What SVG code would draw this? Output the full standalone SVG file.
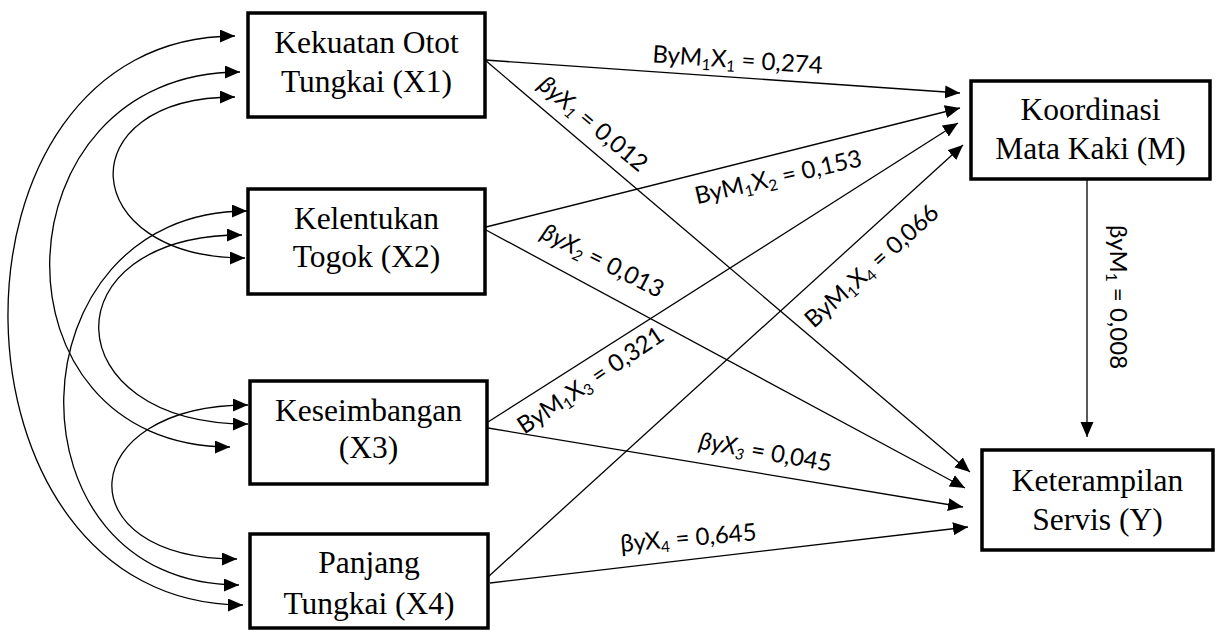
<svg xmlns="http://www.w3.org/2000/svg" width="1217" height="633" viewBox="0 0 1217 633">
<style>
.box{fill:#fff;stroke:#000;stroke-width:3.5}
.nt{font-family:"Liberation Serif","Times New Roman",serif;font-size:31.5px;fill:#000;text-anchor:middle}
.ln{fill:none;stroke:#000;stroke-width:1.3}
.lb{font-family:Lato,"Noto Sans","DejaVu Sans",sans-serif;font-size:24px;fill:#000;text-anchor:middle}
.sb{font-size:15.5px}
.it{font-style:italic}
</style>
<defs>
<marker id="ah" markerUnits="userSpaceOnUse" markerWidth="16" markerHeight="14" refX="15" refY="6.5" orient="auto-start-reverse">
<path d="M0,0 L15,6.5 L0,13 z" fill="#000"/>
</marker>
</defs>
<rect width="1217" height="633" fill="#fff"/>
<g id="connectors">
<path class="ln" marker-start="url(#ah)" marker-end="url(#ah)" d="M235,36 C-73,36 -65,605 243,605"/>
<path class="ln" marker-start="url(#ah)" marker-end="url(#ah)" d="M240,72 C-7,72 -17,447 230,447"/>
<path class="ln" marker-start="url(#ah)" marker-end="url(#ah)" d="M235,97 C66,97 76,258 245,258"/>
<path class="ln" marker-start="url(#ah)" marker-end="url(#ah)" d="M247,211 C8,211 0,585 239,585"/>
<path class="ln" marker-start="url(#ah)" marker-end="url(#ah)" d="M242,235 C47,235 53,424 248,424"/>
<path class="ln" marker-start="url(#ah)" marker-end="url(#ah)" d="M248,405 C74,405 63,559 237,559"/>
<path class="ln" marker-end="url(#ah)" d="M485,60 L960,93"/>
<path class="ln" marker-end="url(#ah)" d="M485,60 L970,472"/>
<path class="ln" marker-end="url(#ah)" d="M486,227 L960,108"/>
<path class="ln" marker-end="url(#ah)" d="M486,230 L965,488"/>
<path class="ln" marker-end="url(#ah)" d="M488,422 L958,123"/>
<path class="ln" marker-end="url(#ah)" d="M488,428 L963,507"/>
<path class="ln" marker-end="url(#ah)" d="M488,577 L963,145"/>
<path class="ln" marker-end="url(#ah)" d="M490,583 L968,527"/>
<path class="ln" marker-end="url(#ah)" d="M1087,179 L1087,437"/>
</g>
<g id="labels">
<text class="lb" transform="translate(737,68) rotate(3.8)">ByM<tspan class="sb" dy="4">1</tspan><tspan dy="-4">X</tspan><tspan class="sb" dy="4">1</tspan><tspan dy="-4"> = 0,274</tspan></text>
<text class="lb" transform="translate(588,130) rotate(40)"><tspan class="it">βyX</tspan><tspan class="sb it" dy="4">1</tspan><tspan dy="-4"> = 0,012</tspan></text>
<text class="lb" transform="translate(780,185) rotate(-13)">ByM<tspan class="sb" dy="4">1</tspan><tspan dy="-4">X</tspan><tspan class="sb" dy="4">2</tspan><tspan dy="-4"> = 0,153</tspan></text>
<text class="lb" transform="translate(599,268) rotate(27)"><tspan class="it">βyX</tspan><tspan class="sb it" dy="4">2</tspan><tspan dy="-4"> = 0,013</tspan></text>
<text class="lb" transform="translate(595,387) rotate(-34)">ByM<tspan class="sb" dy="4">1</tspan><tspan dy="-4">X</tspan><tspan class="sb" dy="4">3</tspan><tspan dy="-4"> = 0,321</tspan></text>
<text class="lb" transform="translate(877,272) rotate(-42)">ByM<tspan class="sb" dy="4">1</tspan><tspan dy="-4">X</tspan><tspan class="sb" dy="4">4</tspan><tspan dy="-4"> = 0,066</tspan></text>
<text class="lb" transform="translate(764,460) rotate(10)"><tspan class="it">βyX</tspan><tspan class="sb it" dy="4">3</tspan><tspan dy="-4"> = 0,045</tspan></text>
<text class="lb" transform="translate(689,546) rotate(-5)">βyX<tspan class="sb" dy="4">4</tspan><tspan dy="-4"> = 0,645</tspan></text>
<text class="lb" transform="translate(1110,297) rotate(90)">βyM<tspan class="sb" dy="4">1</tspan><tspan dy="-4"> = 0,008</tspan></text>
</g>
<g id="x1"><rect class="box" x="248" y="13" width="237" height="104"/><text class="nt" x="366.5" y="53">Kekuatan Otot</text><text class="nt" x="366.5" y="92">Tungkai (X1)</text></g>
<g id="x2"><rect class="box" x="248" y="189" width="237" height="105"/><text class="nt" x="366.5" y="229">Kelentukan</text><text class="nt" x="366.5" y="267">Togok (X2)</text></g>
<g id="x3"><rect class="box" x="250" y="381" width="237" height="103"/><text class="nt" x="368.5" y="421">Keseimbangan</text><text class="nt" x="368.5" y="458">(X3)</text></g>
<g id="x4"><rect class="box" x="250" y="534" width="238" height="94"/><text class="nt" x="369" y="573">Panjang</text><text class="nt" x="369" y="614">Tungkai (X4)</text></g>
<g id="m"><rect class="box" x="971" y="81" width="239" height="98"/><text class="nt" x="1090.5" y="120">Koordinasi</text><text class="nt" x="1090.5" y="159">Mata Kaki (M)</text></g>
<g id="y"><rect class="box" x="982" y="450" width="231" height="100"/><text class="nt" x="1097.5" y="491">Keterampilan</text><text class="nt" x="1097.5" y="530">Servis (Y)</text></g>
</svg>
